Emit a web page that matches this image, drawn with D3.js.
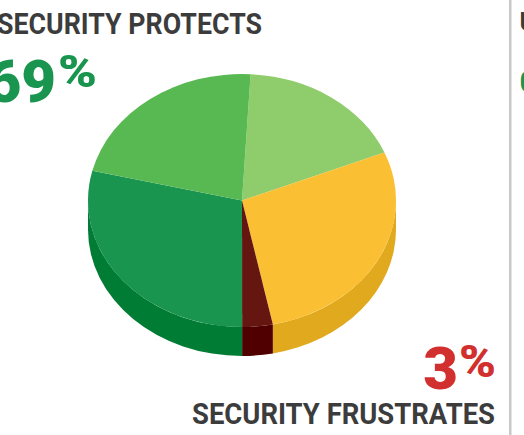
<!DOCTYPE html>
<html><head><meta charset="utf-8">
<script src="https://cdn.jsdelivr.net/npm/d3@7"></script>
<style>html,body{margin:0;padding:0;background:#fff;overflow:hidden}svg{display:block}text{font-family:Roboto,sans-serif;font-weight:700}</style>
</head><body><svg id="c" width="524" height="435"></svg>
<script>
const categories = ["Protects light","Neutral","Frustrates","Protects dark","Protects mid"];
const values = [17.9, 28, 3.2, 28.8, 22.1];
const topColors = ["#8fcc6b","#fbbf33","#651610","#1a954f","#58b952"];
const sideColors = ["#75b455","#e0a91e","#500000","#017c35","#3f9f3f"];
const svg = d3.select("#c");
const W=524,H=435,cx=242,cy=200.5,rx=154,ry=126.5,depth=29;
const k=ry/rx, start=3.2*Math.PI/180, frontA=Math.PI/2, frontB=3*Math.PI/2;

svg.append("rect").attr("x",509).attr("y",0).attr("width",2.5).attr("height",H).attr("fill","#c8c8c8");

const pie=d3.pie().sort(null).startAngle(start).endAngle(start+2*Math.PI);
const arcs=pie(values);
const g=svg.append("g").attr("transform",`translate(${cx},${cy}) scale(1,${k})`);
const d=depth/k, off=-Math.PI/2;
arcs.forEach((a,i)=>{
  const s=Math.max(a.startAngle,frontA), e=Math.min(a.endAngle,frontB);
  if(e<=s) return;
  const p=d3.path();
  p.moveTo(rx*Math.cos(s+off),rx*Math.sin(s+off));
  p.arc(0,0,rx,s+off,e+off,false);
  p.lineTo(rx*Math.cos(e+off),rx*Math.sin(e+off)+d);
  p.arc(0,d,rx,e+off,s+off,true);
  p.closePath();
  g.append("path").attr("d",p.toString()).attr("fill",sideColors[i]);
});
const arc=d3.arc().innerRadius(0).outerRadius(rx);
g.selectAll("path.top").data(arcs).join("path").attr("class","top").attr("d",arc).attr("fill",(d,i)=>topColors[i]);

function t(x,y,s,size,fill,anchor,len,w){
  const n=svg.append("text").attr("x",x).attr("y",y).attr("font-size",size).attr("fill",fill).attr("text-anchor",anchor).text(s);
  if(len) n.attr("textLength",len).attr("lengthAdjust","spacingAndGlyphs");
  if(w) n.style("font-weight",w);
  return n;
}
t(-3,33.5,"SECURITY PROTECTS",29,"#3c3c3c","start",265);
t(56,102,"69",60,"#1a954f","end",null,900);
t(58,87,"%",44,"#1a954f","start",39,900);
t(458,389,"3",60,"#d2302f","end",null,900);
t(459,377,"%",44,"#d2302f","start",37,900);
t(495,423.5,"SECURITY FRUSTRATES",29,"#3c3c3c","end",303);
t(519.5,31,"U",26,"#3c3c3c","start");
t(519.5,92,"0",30,"#1a954f","start");
</script></body></html>
